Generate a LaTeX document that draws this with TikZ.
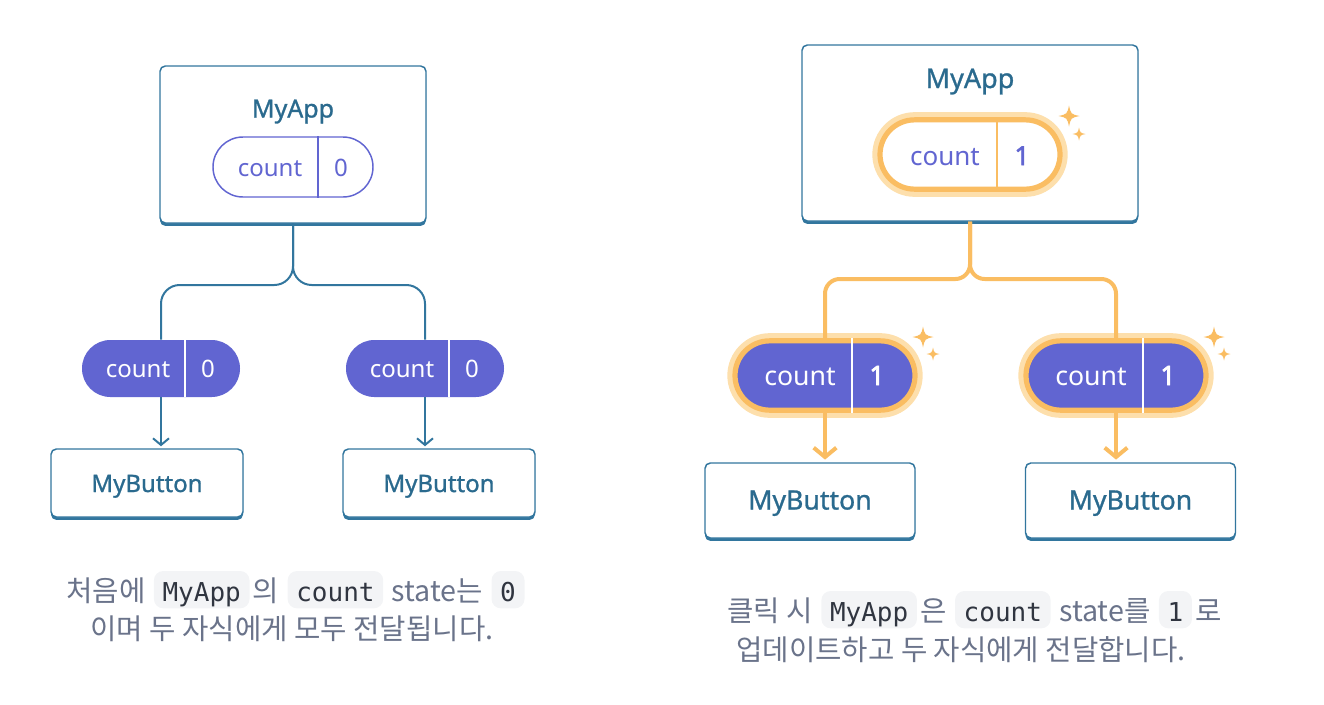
\documentclass[tikz,border=0pt]{standalone}
\usepackage{fontspec}
\setmainfont{Noto Sans}
\newfontfamily\labelfont{Noto Sans}
\newfontfamily\valuefont{Noto Sans}[FakeBold=2.5]
\newfontfamily\titlefont{Noto Sans}[FakeBold=1]
\newfontfamily\krfont{Noto Sans CJK KR}
\newfontfamily\codefont{DejaVu Sans Mono}
\usetikzlibrary{arrows.meta,positioning,calc}
\definecolor{cardblue}{RGB}{50,118,158}
\definecolor{titleblue}{RGB}{42,106,142}
\definecolor{countpurple}{RGB}{97,101,209}
\definecolor{flowgold}{RGB}{250,189,98}
\definecolor{glowgold}{RGB}{253,223,172}
\definecolor{captiongray}{RGB}{106,115,138}
\definecolor{chipgray}{RGB}{243,244,246}
\definecolor{chiptext}{RGB}{48,53,64}

\begin{document}
\begin{tikzpicture}[x=.75pt,y=-.75pt,
  card/.style={draw=cardblue,line width=1.1pt,fill=white,rounded corners=4pt,
    preaction={fill=cardblue,transform canvas={yshift=-2.2pt}}},
  btn/.style={card,text=titleblue,font=\titlefont\fontsize{#1}{#1}\selectfont,
    text height=13.5pt,text depth=0pt},
  apptitle/.style={font=\titlefont\fontsize{#1}{#1}\selectfont,text=titleblue,anchor=base,inner sep=0pt},
  countlbl/.style={font=\labelfont\fontsize{#1}{#1}\selectfont,anchor=base,inner sep=0pt},
  outlinepill/.style={draw=countpurple,line width=1.1pt,fill=white,rounded corners=22.5pt,
    minimum width=120pt,minimum height=45pt},
  fullpill/.style={fill=countpurple,rounded corners=21.3pt,minimum width=118.5pt,minimum height=42.75pt},
  glowpill/.style={draw=flowgold,line width=3.9pt,rounded corners=26pt,minimum width=135pt,
    minimum height=52pt,preaction={draw=glowgold,line width=11.5pt}},
  tree/.style={cardblue,line width=1.5pt,rounded corners=14pt},
  goldtree/.style={flowgold,line width=3pt,rounded corners=11pt},
  captext/.style={font=\krfont\fontsize{21.5}{26}\selectfont,text=captiongray,inner sep=0pt,anchor=base west},
  chip/.style={font=\codefont\fontsize{19.5}{22}\selectfont,text=chiptext,fill=chipgray,
    rounded corners=7pt,inner xsep=6.5pt,inner ysep=0pt,text height=22.5pt,text depth=5.5pt}]
  \useasboundingbox (0,0) rectangle (1324,704);

  % before: MyApp holds count = 0
  \node[card,minimum width=199.5pt,minimum height=117.75pt] (app1) at (293,144.5) {};
  \node[apptitle=18.75] (app1name) at (293,117.5) {MyApp};
  \node[outlinepill] (pill1) at (293,167) {};
  \draw[countpurple,line width=1.1pt] ($(pill1.north)+(25,0)$) -- ($(pill1.south)+(25,0)$);
  \node[countlbl=18,text=countpurple] (pill1key) at (270,176.5) {count};
  \node[countlbl=18,text=countpurple] (pill1val) at (341,176.5) {0};
  \coordinate (fork1) at (293,285);
  \foreach \kid/\cx/\btn/\bx in {kidA/161/btnA/147,kidB/425/btnB/439}{
    \node[fullpill] (\kid) at (\cx,368.5) {};
    \draw[white,line width=1pt] ($(\kid.north)+(24,0)$) -- ($(\kid.south)+(24,0)$);
    \node[countlbl=18,text=white] (\kid-key) at (\cx-23,377.5) {count};
    \node[countlbl=18,text=white] (\kid-val) at (\cx+47,377.5) {0};
    \node[btn=18,minimum width=144pt,minimum height=51pt] (\btn) at (\bx,483) {MyButton};
    \draw[tree] (app1.south) -- (fork1) -| (\kid.north);
    \draw[tree,-{Straight Barb[length=5pt,width=12pt]},shorten >=1.5pt] (\kid.south) -- (\kid.south |- \btn.north);
  }

  % after click: count = 1
  \node[card,minimum width=252pt,minimum height=132pt] (app2) at (970,133) {};
  \node[apptitle=20.25] (app2name) at (970,88) {MyApp};
  \node[glowpill,fill=white] (pill2) at (970,154.5) {};
  \draw[flowgold,line width=1.5pt] ($(pill2.north)+(27,0)$) -- ($(pill2.south)+(27,0)$);
  \node[countlbl=19.5,text=countpurple] (pill2key) at (945,165) {count};
  \node[countlbl=19.5,text=countpurple] (pill2val) at (1022,165) {\valuefont 1};
  \coordinate (fork2) at (970,279);
  \foreach \kid/\cx/\btn/\bx in {kidC/825/btnC/810,kidD/1116/btnD/1130.5}{
    \node[glowpill,fill=countpurple] (\kid) at (\cx,375.5) {};
    \draw[white,line width=1.2pt] ($(\kid.north)+(27,0)$) -- ($(\kid.south)+(27,0)$);
    \node[countlbl=20,text=white] (\kid-key) at (\cx-25,385) {count};
    \node[countlbl=20,text=white] (\kid-val) at (\cx+52,385) {\valuefont 1};
    \node[btn=20,minimum width=157.5pt,minimum height=56.25pt] (\btn) at (\bx,500.5) {MyButton};
    \draw[goldtree] (app2.south) -- (fork2) -| (\kid.north);
    \draw[goldtree,-{Straight Barb[length=7pt,width=17pt]},shorten >=2pt] (\kid.south) -- (\kid.south |- \btn.north);
  }
  \foreach \sx/\sy/\sr in {1069/116/10.5,1079/134/6.5,923/337/10.5,933/354/6.5,1214/337/10.5,1224/354/6.5}
    \fill[flowgold] (\sx,\sy-\sr) .. controls ({\sx+.18*\sr},{\sy-.18*\sr}) .. (\sx+\sr,\sy)
      .. controls ({\sx+.18*\sr},{\sy+.18*\sr}) .. (\sx,\sy+\sr)
      .. controls ({\sx-.18*\sr},{\sy+.18*\sr}) .. (\sx-\sr,\sy)
      .. controls ({\sx-.18*\sr},{\sy-.18*\sr}) .. cycle;

  % captions
  \node[captext] (capA1) at (66,601) {처음에};
  \node[chip,base right=6pt of capA1] (capA2) {MyApp};
  \node[captext,base right=2pt of capA2] (capA3) {의};
  \node[chip,base right=6pt of capA3] (capA4) {count};
  \node[captext,base right=6pt of capA4] (capA5) {state는};
  \node[chip,base right=6pt of capA5] (capA6) {0};
  \node[captext,anchor=base] (capA7) at (292,639) {이며 두 자식에게 모두 전달됩니다.};

  \node[captext] (capB1) at (727,621) {클릭 시};
  \node[chip,base right=6pt of capB1] (capB2) {MyApp};
  \node[captext,base right=2pt of capB2] (capB3) {은};
  \node[chip,base right=6pt of capB3] (capB4) {count};
  \node[captext,base right=6pt of capB4] (capB5) {state를};
  \node[chip,base right=6pt of capB5] (capB6) {1};
  \node[captext,base right=2pt of capB6] (capB7) {로};
  \node[captext,anchor=base] (capB8) at (961,660) {업데이트하고 두 자식에게 전달합니다.};
\end{tikzpicture}
\end{document}
